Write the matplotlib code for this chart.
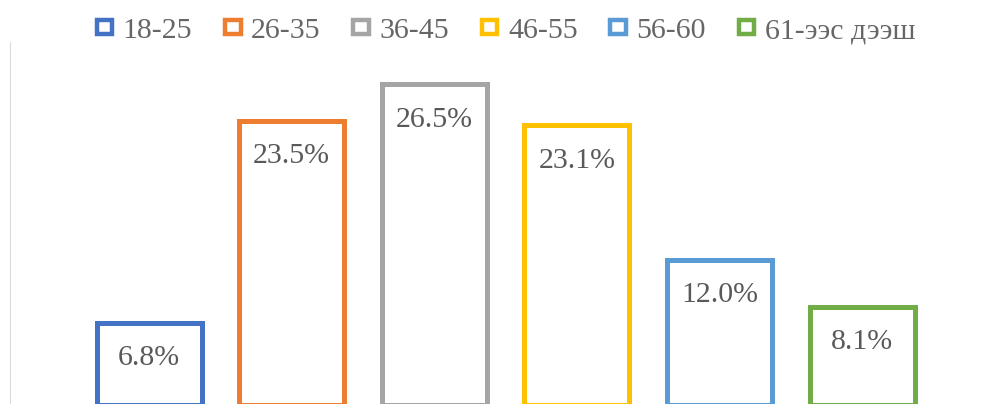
import matplotlib.pyplot as plt
from matplotlib.patches import Patch

# age groups and their shares (%)
groups = ['18-25', '26-35', '36-45', '46-55', '56-60', '61-ээс дээш']
shares = [6.8, 23.5, 26.5, 23.1, 12.0, 8.1]
colors = ['#4472C4', '#ED7D31', '#A5A5A5', '#FFC000', '#5B9BD5', '#70AD47']

plt.rcParams['font.family'] = ['Liberation Serif', 'DejaVu Serif']

fig = plt.figure(figsize=(9.92, 4.04), dpi=100)
ax = fig.add_axes([10 / 992, -1 / 404, 982 / 992, 363 / 404])

x = list(range(len(groups)))
bars = ax.bar(x, shares, width=0.736, color='white', edgecolor=colors, linewidth=3.6)

for xi, v in zip(x, shares):
    ax.annotate(f'{v:.1f}%', (xi, v), xytext=(0, -25.5), textcoords='offset points',
                ha='center', va='center', fontsize=21.5, color='#595959')

ax.set_xlim(-0.975, -0.975 + 982 / 142.6)
ax.set_ylim(0, 30)
ax.set_xticks([])
ax.set_yticks([])
for s in ['top', 'right', 'bottom']:
    ax.spines[s].set_visible(False)
ax.spines['left'].set_color('#d9d9d9')
ax.spines['left'].set_linewidth(0.75)

handles = [Patch(facecolor='white', edgecolor=c, linewidth=3.2) for c in colors]
fig.legend(handles, groups, loc='center', bbox_to_anchor=(506 / 992, 1 - 31 / 404),
           ncol=6, frameon=False, fontsize=21.5, labelcolor='#666666',
           handlelength=0.52, handleheight=0.36, handletextpad=0.35, columnspacing=1.1)

fig.savefig('out.png', dpi=100)
